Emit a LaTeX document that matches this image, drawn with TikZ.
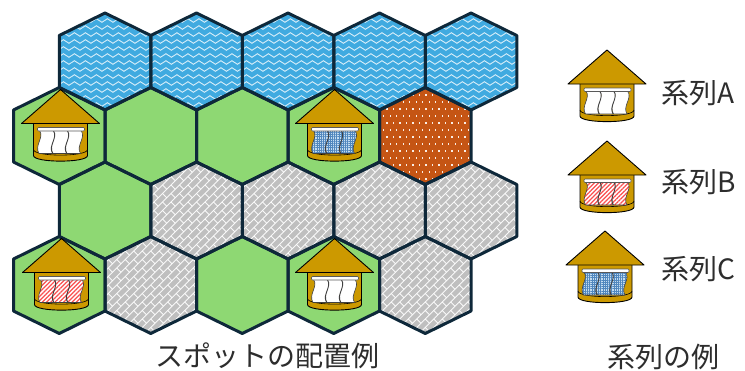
\documentclass[tikz,border=0pt]{standalone}
\usepackage{fontspec}
\newfontfamily\jpfont{Noto Sans CJK JP}
\usetikzlibrary{decorations.pathmorphing,patterns.meta}

\definecolor{hexedge}{RGB}{14,40,58}
\definecolor{water}{RGB}{64,170,224}
\definecolor{grass}{RGB}{142,216,115}
\definecolor{rock}{RGB}{191,191,191}
\definecolor{clay}{RGB}{197,85,20}
\definecolor{hutgold}{RGB}{204,153,0}
\definecolor{curtainred}{RGB}{250,80,80}
\definecolor{curtainblue}{RGB}{80,135,190}
\definecolor{curtainlight}{RGB}{195,220,240}
\definecolor{labeltext}{RGB}{45,45,45}

% pointy-top hexagon around (#1,#2)
\newcommand\hexpath[2]{(#1,#2-48.5) -- (#1+45.75,#2-26) -- (#1+45.75,#2+26) -- (#1,#2+48.5) -- (#1-45.75,#2+26) -- (#1-45.75,#2-26) -- cycle}

% one wavy curtain panel hanging from the rod
\newcommand\panel[1]{(#1,41) -- (#1+13.5,41) .. controls (#1+19,48) and (#1+8,56) .. (#1+13,64) -- (#1-0.5,64) .. controls (#1-5.5,56) and (#1+5,48) .. (#1,41) -- cycle}

\tikzset{
  hexline/.style={draw=hexedge, line width=3pt, line join=round},
  waveline/.style={white, line width=0.9pt, opacity=0.8, decorate,
    decoration={snake, segment length=11pt, amplitude=1.8pt}},
  brickline/.style={white, line width=0.9pt, opacity=0.9},
  hutline/.style={draw=black, line width=0.9pt, line join=round},
  curtedge/.style={draw=black!75, line width=0.6pt, line join=round},
  curtA/.style={fill=white},
  curtB/.style={preaction={fill=white}, pattern={Lines[angle=45,distance=3pt,line width=1.3pt]}, pattern color=curtainred},
  curtC/.style={preaction={fill=curtainlight}, pattern={Hatch[distance=2.2pt,line width=0.6pt]}, pattern color=curtainblue},
  jplabel/.style={font=\jpfont\fontsize{28}{30}\selectfont, text=labeltext, inner sep=0pt},
  pics/hut/.style={code={
    \fill[hutgold] (-27,34) -- (-27,66) .. controls (-27,73.5) and (27,73.5) .. (27,66) -- (27,34) -- cycle;
    \draw[hutline] (-27,34) -- (-27,66) .. controls (-27,73.5) and (27,73.5) .. (27,66) -- (27,34);
    \draw[hutline, line width=0.6pt] (-27,60) .. controls (-27,67.5) and (27,67.5) .. (27,60);
    \path[#1] \panel{-21} \panel{-7} \panel{7};
    \draw[curtedge] \panel{-21} \panel{-7} \panel{7};
    \draw[fill=white, draw=black!65, line width=0.6pt, rounded corners=1pt] (-23,38) rectangle (24,41.5);
    \filldraw[fill=hutgold, hutline] (0,0) -- (39,34) -- (-39,34) -- cycle;
  }}
}

\newcommand\watertile[2]{%
  \begin{scope}
    \clip \hexpath{#1}{#2};
    \fill[water] (#1-50,#2-52) rectangle (#1+50,#2+52);
    \foreach \k in {-7,...,7}{\draw[waveline] (#1-56,#2+\k*7+1) -- (#1+56,#2+\k*7+1);}
  \end{scope}}

\newcommand\grasstile[2]{\fill[grass] \hexpath{#1}{#2};}

\newcommand\rocktile[2]{%
  \begin{scope}
    \clip \hexpath{#1}{#2};
    \fill[rock] (#1-50,#2-52) rectangle (#1+50,#2+52);
    \begin{scope}[shift={(#1,#2)}, rotate=45]
      \foreach \r in {-11,...,11}{
        \draw[brickline] (-80,\r*6) -- (80,\r*6);
        \foreach \c in {-7,...,7}{\draw[brickline] ({\c*12+6*Mod(\r,2)},\r*6) -- ++(0,6);}
      }
    \end{scope}
  \end{scope}}

\newcommand\claytile[2]{%
  \begin{scope}
    \clip \hexpath{#1}{#2};
    \fill[clay] (#1-50,#2-52) rectangle (#1+50,#2+52);
    \foreach \j in {-8,...,8}{
      \foreach \i in {-8,...,8}{
        \fill[white, opacity=0.9] ({#1+\i*6.5+3.25*Mod(\j,2)},{#2+\j*7}) rectangle ++(1.3,1.9);
      }
    }
  \end{scope}}

\begin{document}
\begin{tikzpicture}[x=1pt, y=-1pt]
  \useasboundingbox (0,0) rectangle (745,370);
  \fill[white] (0,0) rectangle (745,370);

  % top row: water
  \foreach \x in {105,196.5,288,379.5,471}{\watertile{\x}{61.5}}
  % second row
  \foreach \x in {59.25,150.75,242.25,333.75}{\grasstile{\x}{136}}
  \claytile{425.25}{136}
  % third row
  \grasstile{105}{210.5}
  \foreach \x in {196.5,288,379.5,471}{\rocktile{\x}{210.5}}
  % bottom row
  \grasstile{59.25}{285}
  \rocktile{150.75}{285}
  \grasstile{242.25}{285}
  \grasstile{333.75}{285}
  \rocktile{425.25}{285}

  % hexagon borders
  \foreach \x in {105,196.5,288,379.5,471}{
    \draw[hexline] \hexpath{\x}{61.5};
    \draw[hexline] \hexpath{\x}{210.5};
  }
  \foreach \x in {59.25,150.75,242.25,333.75,425.25}{
    \draw[hexline] \hexpath{\x}{136};
    \draw[hexline] \hexpath{\x}{285};
  }

  % spots placed on the map
  \pic at (60.5,89.5) {hut=curtA};
  \pic at (334.5,89.5) {hut=curtC};
  \pic at (61.5,238.5) {hut=curtB};
  \pic at (334.5,238.5) {hut=curtA};

  % legend
  \pic at (607,50) {hut=curtA};
  \pic at (607,141) {hut=curtB};
  \pic at (605,231) {hut=curtC};
  \node[jplabel, anchor=west] (legA) at (661,93) {系列A};
  \node[jplabel, anchor=west] (legB) at (661,182) {系列B};
  \node[jplabel, anchor=west] (legC) at (661,269) {系列C};

  % captions
  \node[jplabel] (mapcap) at (267,356) {スポットの配置例};
  \node[jplabel] (legcap) at (663,357) {系列の例};
\end{tikzpicture}
\end{document}
